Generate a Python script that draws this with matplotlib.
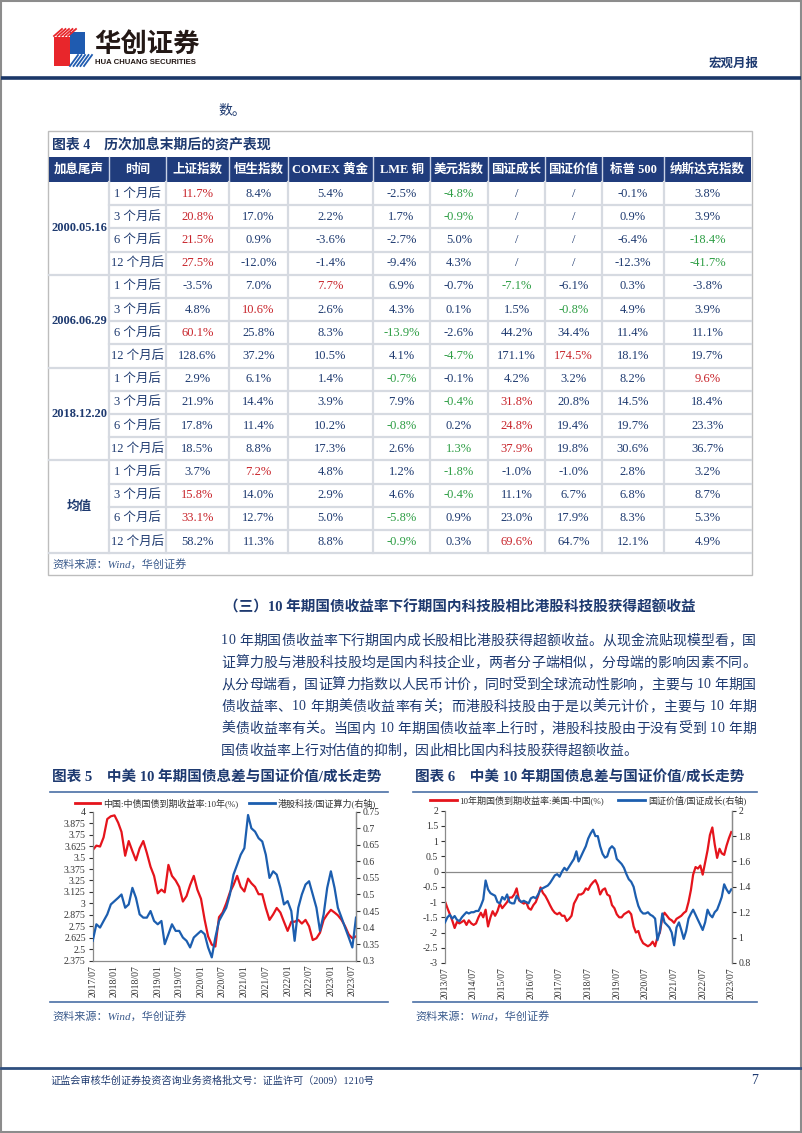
import matplotlib
matplotlib.use('Agg')
import matplotlib.pyplot as plt
import matplotlib.dates as mdates
import pandas as pd
from matplotlib.patches import Rectangle, Polygon

# ------------------------------------------------------------------ data
table_cols = ['加息尾声', '时间', '上证指数', '恒生指数', 'COMEX 黄金', 'LME 铜', '美元指数',
              '国证成长', '国证价值', '标普 500', '纳斯达克指数']
periods = ['1 个月后', '3 个月后', '6 个月后', '12 个月后']
groups = ['2000.05.16', '2006.06.29', '2018.12.20', '均值']
vals_2000 = [[11.7, 8.4, 5.4, -2.5, -4.8, None, None, -0.1, 3.8],
             [20.8, 17.0, 2.2, 1.7, -0.9, None, None, 0.9, 3.9],
             [21.5, 0.9, -3.6, -2.7, 5.0, None, None, -6.4, -18.4],
             [27.5, -12.0, -1.4, -9.4, 4.3, None, None, -12.3, -41.7]]
vals_2006 = [[-3.5, 7.0, 7.7, 6.9, -0.7, -7.1, -6.1, 0.3, -3.8],
             [4.8, 10.6, 2.6, 4.3, 0.1, 1.5, -0.8, 4.9, 3.9],
             [60.1, 25.8, 8.3, -13.9, -2.6, 44.2, 34.4, 11.4, 11.1],
             [128.6, 37.2, 10.5, 4.1, -4.7, 171.1, 174.5, 18.1, 19.7]]
vals_2018 = [[2.9, 6.1, 1.4, -0.7, -0.1, 4.2, 3.2, 8.2, 9.6],
             [21.9, 14.4, 3.9, 7.9, -0.4, 31.8, 20.8, 14.5, 18.4],
             [17.8, 11.4, 10.2, -0.8, 0.2, 24.8, 19.4, 19.7, 23.3],
             [18.5, 8.8, 17.3, 2.6, 1.3, 37.9, 19.8, 30.6, 36.7]]
vals_mean = [[3.7, 7.2, 4.8, 1.2, -1.8, -1.0, -1.0, 2.8, 3.2],
             [15.8, 14.0, 2.9, 4.6, -0.4, 11.1, 6.7, 6.8, 8.7],
             [33.1, 12.7, 5.0, -5.8, 0.9, 23.0, 17.9, 8.3, 5.3],
             [58.2, 11.3, 8.8, -0.9, 0.3, 69.6, 64.7, 12.1, 4.9]]
group_vals = [vals_2000, vals_2006, vals_2018, vals_mean]

# chart 5 (monthly, 2017/07 - 2023/08)
c5_start = '2017-07-01'
cn10y = [3.58, 3.63, 3.62, 3.72, 3.92, 3.95,
         3.96, 3.88, 3.78, 3.52, 3.68, 3.57, 3.47, 3.60, 3.68, 3.55, 3.40, 3.30,
         3.11, 3.15, 3.12, 3.42, 3.30, 3.25, 3.18, 3.02, 3.08, 3.20, 3.30, 3.15,
         3.05, 2.82, 2.64, 2.55, 2.53, 2.85, 2.90, 3.00, 3.12, 3.20, 3.30, 3.18,
         3.13, 3.27, 3.22, 3.18, 3.10, 3.10, 2.95, 2.82, 2.88, 2.95, 2.90, 2.80,
         2.70, 2.80, 2.80, 2.82, 2.78, 2.82, 2.75, 2.60, 2.62, 2.68, 2.82, 2.88,
         2.93, 2.90, 2.87, 2.82, 2.75, 2.66, 2.62, 2.64]
hk_tech_ratio = [0.36, 0.41, 0.40, 0.42, 0.44, 0.47,
                 0.48, 0.49, 0.50, 0.46, 0.47, 0.52, 0.49, 0.44, 0.43, 0.43, 0.45, 0.42,
                 0.41, 0.42, 0.35, 0.38, 0.41, 0.39, 0.39, 0.37, 0.36, 0.34, 0.37, 0.38,
                 0.39, 0.38, 0.34, 0.31, 0.37, 0.42, 0.44, 0.46, 0.50, 0.56, 0.59, 0.62,
                 0.64, 0.74, 0.70, 0.69, 0.67, 0.66, 0.62, 0.55, 0.57, 0.56, 0.52, 0.47,
                 0.48, 0.45, 0.36, 0.46, 0.50, 0.53, 0.54, 0.50, 0.46, 0.39, 0.44, 0.52,
                 0.57, 0.52, 0.46, 0.43, 0.40, 0.37, 0.34, 0.43]
c5_ticks = ['2017/07', '2018/01', '2018/07', '2019/01', '2019/07', '2020/01', '2020/07',
            '2021/01', '2021/07', '2022/01', '2022/07', '2023/01', '2023/07']
c5_left_ticks = ['2.375', '2.5', '2.625', '2.75', '2.875', '3', '3.125', '3.25', '3.375',
                 '3.5', '3.625', '3.75', '3.875', '4']
c5_right_ticks = ['0.3', '0.35', '0.4', '0.45', '0.5', '0.55', '0.6', '0.65', '0.7', '0.75']

# chart 6 (monthly, 2013/07 - 2023/07)
c6_start = '2013-07-01'
us_cn_spread = [-0.98, -1.20, -1.40, -1.60, -1.85, -1.65,
                -1.70, -1.65, -1.60, -1.75, -1.60, -1.70, -1.75, -1.70, -1.50, -1.35, -1.50, -1.25,
                -1.80, -1.50, -1.30, -1.45, -1.30, -1.05, -1.20, -1.10, -1.00, -0.85, -0.85, -0.75,
                -0.55, -0.95, -1.00, -1.05, -1.00, -1.20, -1.25, -1.10, -1.00, -0.80, -0.52, -0.70,
                -0.80, -0.95, -1.10, -1.25, -1.35, -1.40, -1.35, -1.45, -1.45, -1.62, -1.55, -1.45,
                -1.05, -0.90, -0.75, -0.75, -0.70, -0.55, -0.60, -0.45, -0.35, -0.28, -0.45, -0.75,
                -0.60, -0.55, -0.75, -0.80, -1.10, -1.20, -1.40, -1.50, -1.50, -1.40, -1.35, -1.30,
                -1.40, -1.80, -2.00, -1.95, -2.20, -2.35, -2.40, -2.45, -2.40, -2.30, -2.45, -2.15,
                -2.00, -1.50, -1.35, -1.45, -1.55, -1.60, -1.68, -1.55, -1.50, -1.45, -1.36, -1.30,
                -1.00, -0.60, -0.10, 0.15, 0.10, 0.20, -0.10, 0.30, 0.70, 1.20, 1.45, 0.90,
                0.45, 0.75, 0.60, 0.55, 0.85, 1.10, 1.30]
value_growth_ratio = [1.12, 1.16, 1.18, 1.15, 1.17, 1.14,
                      1.13, 1.16, 1.18, 1.20, 1.19, 1.20, 1.20, 1.21, 1.21, 1.25, 1.30, 1.45,
                      1.38, 1.35, 1.34, 1.33, 1.28, 1.27, 1.32, 1.30, 1.34, 1.28, 1.27, 1.27,
                      1.33, 1.30, 1.28, 1.29, 1.28, 1.27, 1.31, 1.32, 1.31, 1.34, 1.38, 1.39,
                      1.40, 1.41, 1.43, 1.46, 1.49, 1.50, 1.48, 1.52, 1.55, 1.53, 1.56, 1.59,
                      1.62, 1.68, 1.60, 1.64, 1.68, 1.72, 1.78, 1.82, 1.85, 1.80, 1.80, 1.72,
                      1.66, 1.63, 1.64, 1.70, 1.72, 1.70, 1.62, 1.60, 1.58, 1.55, 1.50, 1.46,
                      1.44, 1.40, 1.32, 1.25, 1.21, 1.19, 1.19, 1.20, 1.18, 1.17, 1.15, 0.98,
                      1.05, 1.19, 1.12, 1.10, 1.08, 1.04, 0.94, 1.08, 1.12, 1.06, 0.99, 1.05,
                      1.15, 1.19, 1.22, 1.18, 1.14, 1.10, 1.06, 1.12, 1.22, 1.18, 1.16, 1.20,
                      1.22, 1.27, 1.32, 1.42, 1.38, 1.35, 1.38]
c6_ticks = ['2013/07', '2014/07', '2015/07', '2016/07', '2017/07', '2018/07', '2019/07',
            '2020/07', '2021/07', '2022/07', '2023/07']
c6_left_ticks = ['-3', '-2.5', '-2', '-1.5', '-1', '-0.5', '0', '0.5', '1', '1.5', '2']
c6_right_ticks = ['0.8', '1', '1.2', '1.4', '1.6', '1.8', '2']

para_lines = [
    '10 年期国债收益率下行期国内成长股相比港股获得超额收益。从现金流贴现模型看，国',
    '证算力股与港股科技股均是国内科技企业，两者分子端相似，分母端的影响因素不同。',
    '从分母端看，国证算力指数以人民币计价，同时受到全球流动性影响，主要与 10 年期国',
    '债收益率、10 年期美债收益率有关；而港股科技股由于是以美元计价，主要与 10 年期',
    '美债收益率有关。当国内 10 年期国债收益率上行时，港股科技股由于没有受到 10 年期',
    '国债收益率上行对估值的抑制，因此相比国内科技股获得超额收益。',
]

# ------------------------------------------------------------------ style
W, H = 802, 1133
FAM = ['Liberation Serif', 'Noto Sans CJK SC']
NAVY = '#1E3A70'
HDR = '#203C7C'
RED_T = '#C8242B'
GRN_T = '#2E9E45'
RED_L = '#E5141C'
BLUE_L = '#1C5EAF'
GRID = '#D6DAE1'

fig = plt.figure(figsize=(W / 100, H / 100), dpi=100)
ax0 = fig.add_axes([0, 0, 1, 1])
ax0.set_xlim(0, W)
ax0.set_ylim(H, 0)
ax0.axis('off')


def T(x, y, s, size, color=NAVY, weight='normal', ha='left', va='center', **kw):
    return ax0.text(x, y, s, fontsize=size, color=color, fontweight=weight, ha=ha, va=va,
                    family=FAM, **kw)


renderer = fig.canvas.get_renderer()


def justified(s, x0, y, size, x1=None, color=NAVY, weight='normal'):
    widths = []
    objs = []
    for ch in s:
        if ch == ' ':
            objs.append(None)
            widths.append(size * 1.389 * 0.28)
        else:
            t = T(0, y, ch, size, color=color, weight=weight)
            objs.append(t)
            widths.append(t.get_window_extent(renderer).width)
    gap = 0.0
    if x1 is not None and len(s) > 1:
        gap = (x1 - x0 - sum(widths)) / (len(s) - 1)
    x = x0
    for t, w in zip(objs, widths):
        if t is not None:
            t.set_x(x)
        x += w + gap


# page frame
ax0.add_patch(Rectangle((0.8, 0.8), W - 1.6, H - 1.6, fill=False, ec='#8C8C8C', lw=1.5))

# ------------------------------------------------------------------ header
ax0.add_patch(Rectangle((54, 37), 16, 29, color='#E8262B', lw=0))
for i in range(5):
    ax0.plot([54 + i * 3.5, 62 + i * 3.5], [36, 29], color='#E8262B', lw=1.3)
ax0.add_patch(Rectangle((70, 32), 15, 22, color='#1F5BB0', lw=0))
for i in range(5):
    ax0.plot([70 + i * 3.5, 78 + i * 3.5], [66, 55], color='#1F5BB0', lw=1.3)
ax0.text(94, 44, '华创证券', fontsize=19, fontweight='bold', color='#231815',
         family=['Noto Sans CJK SC'], va='center', ha='left')
ax0.text(95, 62.5, 'HUA CHUANG SECURITIES', fontsize=5.6, fontweight='bold', color='#231815',
         family=['Liberation Sans'], va='center', ha='left')
T(759, 64, '宏观月报', 9, weight='bold', ha='right')
ax0.plot([1, W - 1], [77.5, 77.5], color='#1B3768', lw=2.6, solid_capstyle='butt')

T(218, 112, '数。', 10)

# ------------------------------------------------------------------ table
col_x = [49, 109, 166, 229, 288, 373, 430, 488, 545, 602, 664, 751]
t_top, hdr_top, hdr_bot, row_h = 131, 157, 182, 23.2
n_rows = len(groups) * len(periods)
body_bot = hdr_bot + n_rows * row_h
box_bot = body_bot + 22

ax0.add_patch(Rectangle((col_x[0] - 1, t_top), col_x[-1] - col_x[0] + 2, box_bot - t_top,
                        fill=False, ec='#BDBDBD', lw=1.0))
T(52, 144.5, '图表 4　历次加息末期后的资产表现', 10, weight='bold')
ax0.add_patch(Rectangle((col_x[0], hdr_top), col_x[-1] - col_x[0], hdr_bot - hdr_top,
                        color=HDR, lw=0))
for i, name in enumerate(table_cols):
    T((col_x[i] + col_x[i + 1]) / 2, (hdr_top + hdr_bot) / 2, name, 9, color='white',
      weight='bold', ha='center')
for xx in col_x[1:-1]:
    ax0.plot([xx, xx], [hdr_top, hdr_bot], color='#C9D2E6', lw=1.0)

for g, (gname, gv) in enumerate(zip(groups, group_vals)):
    g_top = hdr_bot + g * len(periods) * row_h
    T((col_x[0] + col_x[1]) / 2, g_top + 2 * row_h, gname, 9, weight='bold', ha='center')
    for r, (pname, rowv) in enumerate(zip(periods, gv)):
        yc = g_top + (r + 0.5) * row_h
        T((col_x[1] + col_x[2]) / 2, yc, pname, 9, ha='center')
        nums = [v for v in rowv if v is not None]
        vmax, vmin = max(nums), min(nums)
        for c, v in enumerate(rowv):
            xc = (col_x[c + 2] + col_x[c + 3]) / 2
            if v is None:
                T(xc, yc, '/', 9, ha='center')
                continue
            col = RED_T if v == vmax else (GRN_T if v == vmin else NAVY)
            T(xc, yc, f'{v:.1f}%', 9, color=col, ha='center')
        if r > 0:
            ax0.plot([col_x[1], col_x[-1]], [g_top + r * row_h] * 2, color=GRID, lw=1.6)
    ax0.plot([col_x[0], col_x[-1]], [g_top + len(periods) * row_h] * 2, color=GRID, lw=1.6)
for xx in col_x[1:-1]:
    ax0.plot([xx, xx], [hdr_bot, body_bot], color=GRID, lw=1.6)
T(52, body_bot + 11, '资料来源：Wind，华创证券', 8, color='#3A5A8C', style='italic')

# ------------------------------------------------------------------ text section
T(224, 607, '（三）10 年期国债收益率下行期国内科技股相比港股科技股获得超额收益', 10.5,
  weight='bold')
line_y = [641, 663, 685, 707, 729, 751]
for k, (s, yy) in enumerate(zip(para_lines, line_y)):
    justified(s, 221, yy, 10, x1=756 if k < len(para_lines) - 1 else None)

# ------------------------------------------------------------------ chart titles
T(52, 777, '图表 5　中美 10 年期国债息差与国证价值/成长走势', 10.5, weight='bold')
T(415, 777, '图表 6　中美 10 年期国债息差与国证价值/成长走势', 10.5, weight='bold')
for xa, xb in [(50, 388), (413, 757)]:
    ax0.plot([xa, xb], [792, 792], color='#4A6FA5', lw=1.2)
    ax0.plot([xa, xb], [1002, 1002], color='#4A6FA5', lw=1.2)
T(52, 1016, '资料来源：Wind，华创证券', 8, color='#3A5A8C', style='italic')
T(415, 1016, '资料来源：Wind，华创证券', 8, color='#3A5A8C', style='italic')

# legends
ax0.plot([75, 100], [803, 803], color=RED_L, lw=2)
T(103, 803, '中国:中债国债到期收益率:10年(%)', 6.5, color='#333333')
ax0.plot([249, 275], [803, 803], color=BLUE_L, lw=2)
T(278, 803, '港股科技/国证算力(右轴)', 6.5, color='#333333')
ax0.plot([430, 457], [800, 800], color=RED_L, lw=2)
T(459, 800, '10年期国债到期收益率:美国-中国(%)', 6.5, color='#333333')
ax0.plot([618, 645], [800, 800], color=BLUE_L, lw=2)
T(648, 800, '国证价值/国证成长(右轴)', 6.5, color='#333333')

# ------------------------------------------------------------------ footer
ax0.plot([1, W - 1], [1067.5, 1067.5], color='#2F4F7F', lw=2)
T(51, 1081, '证监会审核华创证券投资咨询业务资格批文号：证监许可（2009）1210号', 7.3)
T(758, 1080, '7', 10, ha='right')

# ------------------------------------------------------------------ charts


def style_axes(a, right=False):
    for sp in ['top']:
        a.spines[sp].set_visible(False)
    for sp in ['left', 'right', 'bottom']:
        a.spines[sp].set_color('#8A8A8A')
        a.spines[sp].set_linewidth(0.9)
    a.tick_params(axis='y', labelsize=7, colors='#333333', length=3, width=0.8, pad=2,
                  direction='out')
    for lab in a.get_yticklabels():
        lab.set_family(FAM)


def place(x0, y0, x1, y1):
    return [x0 / W, 1 - y1 / H, (x1 - x0) / W, (y1 - y0) / H]


# chart 5
d5 = pd.date_range(c5_start, periods=len(cn10y), freq='MS')
ax5 = fig.add_axes(place(92.7, 811.7, 356, 960.7))
ax5.patch.set_alpha(0)
ax5.plot(d5, cn10y, color=RED_L, lw=1.6)
ax5.set_ylim(2.375, 4)
ax5.set_yticks([float(v) for v in c5_left_ticks])
ax5.set_yticklabels(c5_left_ticks)
ax5.set_xlim(d5[0], d5[-1])
ax5.set_xticks([pd.Timestamp(s.replace('/', '-') + '-01') for s in c5_ticks])
ax5.set_xticklabels(c5_ticks, rotation=90, fontsize=7, family=FAM, color='#333333')
ax5.tick_params(axis='x', length=0, pad=3)
style_axes(ax5)
ax5b = ax5.twinx()
ax5b.plot(d5, hk_tech_ratio, color=BLUE_L, lw=1.6)
ax5b.set_ylim(0.3, 0.75)
ax5b.set_yticks([float(v) for v in c5_right_ticks])
ax5b.set_yticklabels(c5_right_ticks)
style_axes(ax5b)
ax5b.spines['left'].set_visible(False)
ax5b.spines['bottom'].set_visible(False)

# chart 6
d6 = pd.date_range(c6_start, periods=len(us_cn_spread), freq='MS')
ax6 = fig.add_axes(place(445, 810.7, 731.7, 963))
ax6.patch.set_alpha(0)
ax6.axhline(0, color='#8A8A8A', lw=0.9)
ax6.plot(d6, us_cn_spread, color=RED_L, lw=1.6)
ax6.set_ylim(-3, 2)
ax6.set_yticks([float(v) for v in c6_left_ticks])
ax6.set_yticklabels(c6_left_ticks)
ax6.set_xlim(d6[0], d6[-1] + pd.Timedelta(days=5))
ax6.set_xticks([pd.Timestamp(s.replace('/', '-') + '-01') for s in c6_ticks])
ax6.set_xticklabels(c6_ticks, rotation=90, fontsize=7, family=FAM, color='#333333')
ax6.tick_params(axis='x', length=0, pad=3)
style_axes(ax6)
ax6.spines['bottom'].set_visible(False)
ax6b = ax6.twinx()
ax6b.plot(d6, value_growth_ratio, color=BLUE_L, lw=1.6)
ax6b.set_ylim(0.8, 2)
ax6b.set_yticks([float(v) for v in c6_right_ticks])
ax6b.set_yticklabels(c6_right_ticks)
style_axes(ax6b)
ax6b.spines['left'].set_visible(False)
ax6b.spines['bottom'].set_visible(False)

fig.savefig('out.png', dpi=100)
